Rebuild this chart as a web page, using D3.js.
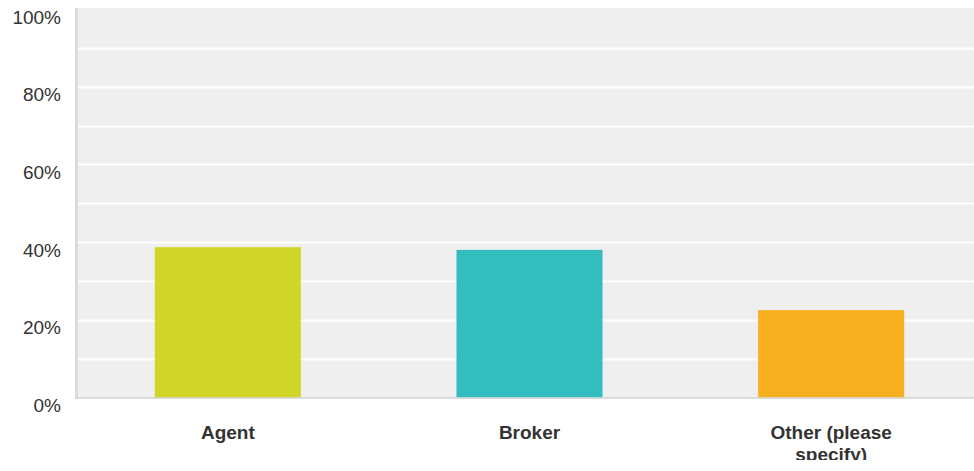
<!DOCTYPE html>
<html>
<head>
<meta charset="utf-8">
<script src="https://cdn.jsdelivr.net/npm/d3@7"></script>
<style>
  html, body { margin: 0; padding: 0; background: #ffffff; }
  svg { display: block; }
</style>
</head>
<body>
<svg id="chart" width="974" height="471"></svg>
<script>
// Survey responses: share of respondents per answer
const categories = ["Agent", "Broker", "Other (please specify)"];
const values = [0.387, 0.380, 0.225];
const colors = ["#cfd628", "#34bdbf", "#f6af1f"];
const tickValues = [0, 0.2, 0.4, 0.6, 0.8, 1.0];
const gridValues = [0.1, 0.2, 0.3, 0.4, 0.5, 0.6, 0.7, 0.8, 0.9];

const svg = d3.select("#chart");
const W = 974, H = 471;
const plotLeft = 78, plotRight = 982, plotTop = 8, plotBottom = 397.5;

const x = d3.scaleBand().domain(categories).range([77, 982]).paddingInner(0.516).paddingOuter(0.258);
const y = d3.scaleLinear().domain([0, 1]).range([plotBottom, 9]);

// Clip everything to the visible drawing area
svg.append("defs").append("clipPath").attr("id", "clip")
  .append("rect").attr("x", 0).attr("y", 0).attr("width", W).attr("height", 460);
const g = svg.append("g").attr("clip-path", "url(#clip)");

// Plot background
g.append("rect")
  .attr("x", plotLeft).attr("y", plotTop)
  .attr("width", plotRight - plotLeft).attr("height", plotBottom - plotTop)
  .attr("fill", "#efefef");

// Horizontal gridlines
g.append("g").selectAll("line").data(gridValues).join("line")
  .attr("x1", plotLeft).attr("x2", plotRight)
  .attr("y1", d => Math.round(y(d)) + 0.5).attr("y2", d => Math.round(y(d)) + 0.5)
  .attr("stroke", "#ffffff").attr("stroke-width", 2);

// Bars
g.append("g").selectAll("rect").data(categories).join("rect")
  .attr("x", d => x(d))
  .attr("width", x.bandwidth())
  .attr("y", (d, i) => y(values[i]))
  .attr("height", (d, i) => y(0) - y(values[i]))
  .attr("fill", (d, i) => colors[i]);

// Left axis rail and baseline
g.append("rect").attr("x", 75).attr("y", plotTop).attr("width", 3).attr("height", plotBottom - plotTop + 1.5)
  .attr("fill", "#dcdcdc");
g.append("line").attr("x1", 75).attr("x2", plotRight)
  .attr("y1", plotBottom + 0.5).attr("y2", plotBottom + 0.5)
  .attr("stroke", "#d0d0d0").attr("stroke-width", 1.5);

// Y axis labels
const yAxis = d3.axisLeft(y).tickValues(tickValues).tickFormat(d3.format(".0%")).tickSize(0).tickPadding(0);
const ya = g.append("g").attr("transform", "translate(61,8)").call(yAxis);
ya.select(".domain").remove();
ya.selectAll("text")
  .attr("font-family", "'Liberation Sans', Arial, sans-serif")
  .attr("font-size", 19)
  .attr("fill", "#333333");

// X axis category labels, wrapped
const xAxis = d3.axisBottom(x).tickSize(0).tickPadding(0).tickFormat("");
const xa = g.append("g").attr("transform", `translate(0,${plotBottom})`).call(xAxis);
xa.select(".domain").remove();
const maxLineWidth = 150;
xa.selectAll(".tick").each(function(d) {
  const t = d3.select(this).append("text")
    .attr("y", 41)
    .attr("text-anchor", "middle")
    .attr("font-family", "'Liberation Sans', Arial, sans-serif")
    .attr("font-size", 19)
    .attr("font-weight", "bold")
    .attr("fill", "#333333");
  const words = d.split(" ");
  let line = [];
  let tspan = t.append("tspan").attr("x", 0).attr("dy", 0);
  words.forEach(w => {
    line.push(w);
    tspan.text(line.join(" "));
    if (tspan.node().getComputedTextLength() > maxLineWidth && line.length > 1) {
      line.pop();
      tspan.text(line.join(" "));
      line = [w];
      tspan = t.append("tspan").attr("x", 0).attr("dy", 22).text(w);
    }
  });
});
</script>
</body>
</html>
